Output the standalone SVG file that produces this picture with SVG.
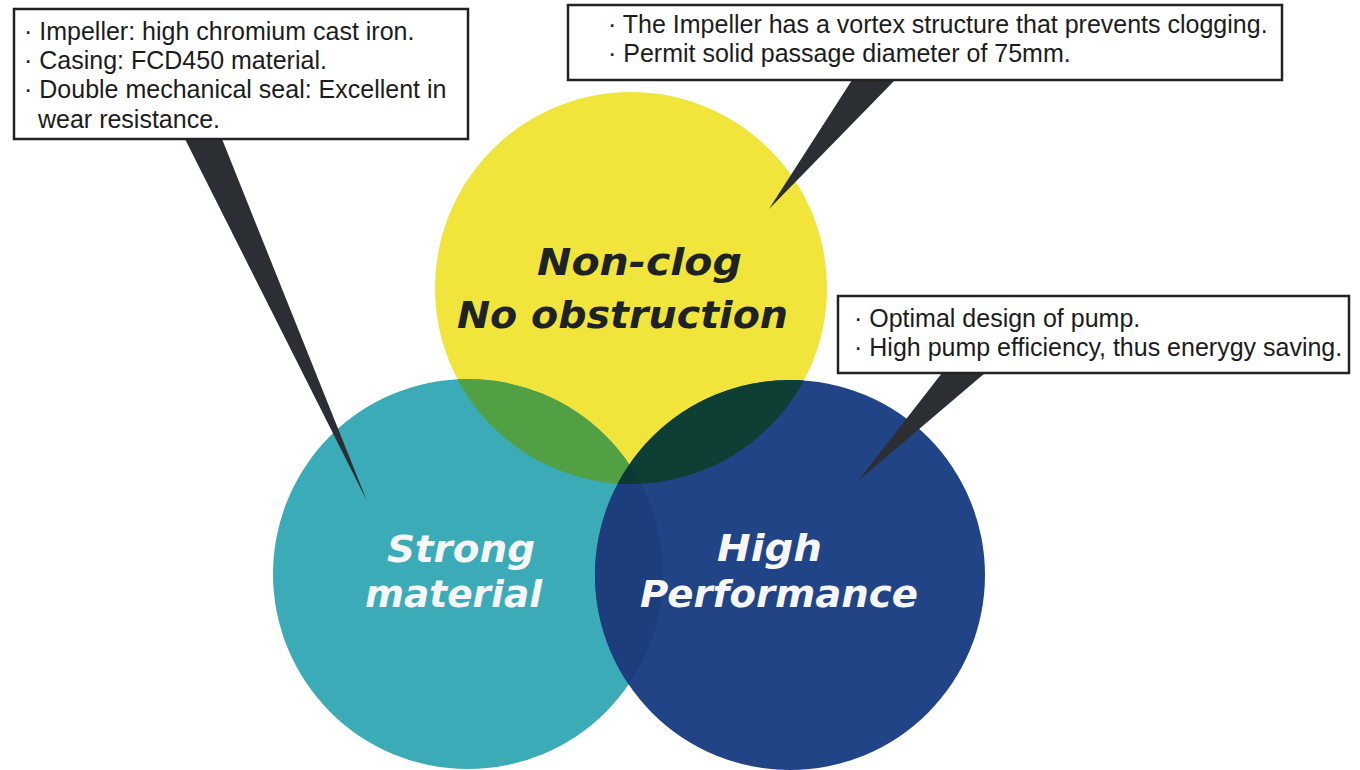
<svg xmlns="http://www.w3.org/2000/svg" width="1360" height="770" viewBox="0 0 1360 770">
<style>
.box{fill:#ffffff;stroke:#222222;stroke-width:2.5}
.bt{font-family:"Liberation Sans",Arial,sans-serif;font-size:25px;fill:#1c1c1c}
.ct{font-family:"DejaVu Sans","Open Sans",sans-serif;font-weight:700;font-style:italic;font-size:38px}
.dark{fill:#1c2226}
.light{fill:#f6f6f6}
.wedge{fill:#2b2f33}
</style>
<defs>
<clipPath id="clipTeal"><circle cx="468" cy="574" r="195"/></clipPath>
<clipPath id="clipBlue"><circle cx="790" cy="575" r="195"/></clipPath>
</defs>
<rect x="0" y="0" width="1360" height="770" fill="#ffffff"/>
<g id="node-nonclog">
<circle cx="631" cy="288" r="196" fill="#f1e43a"/>
</g>
<g id="node-strong">
<circle cx="468" cy="574" r="195" fill="#3babb8"/>
</g>
<g id="node-high">
<circle cx="790" cy="575" r="195" fill="#214487"/>
</g>
<g id="overlaps">
<g clip-path="url(#clipTeal)"><circle cx="631" cy="288" r="196" fill="#52a044"/></g>
<g clip-path="url(#clipTeal)"><circle cx="790" cy="575" r="195" fill="#1d3d7c"/></g>
<g clip-path="url(#clipBlue)"><circle cx="631" cy="288" r="196" fill="#0e3f35"/></g>
<g clip-path="url(#clipTeal)"><g clip-path="url(#clipBlue)"><circle cx="631" cy="288" r="196" fill="#0c3a33"/></g></g>
</g>
<g id="connectors">
<polygon class="wedge" points="185,139 222,139 367,501"/>
<polygon class="wedge" points="852,80 895,80 769,209"/>
<polygon class="wedge" points="942,373 985,373 858,481"/>
</g>
<g id="box-material">
<rect class="box" x="14" y="9" width="454" height="130"/>
<text class="bt" x="24" y="40">· Impeller: high chromium cast iron.</text>
<text class="bt" x="24" y="69">· Casing: FCD450 material.</text>
<text class="bt" x="24" y="98">· Double mechanical seal: Excellent in</text>
<text class="bt" x="38" y="128">wear resistance.</text>
</g>
<g id="box-nonclog">
<rect class="box" x="568" y="5" width="714" height="75"/>
<text class="bt" x="608" y="33">· The Impeller has a vortex structure that prevents clogging.</text>
<text class="bt" x="608" y="62">· Permit solid passage diameter of 75mm.</text>
</g>
<g id="box-performance">
<rect class="box" x="838" y="296" width="511" height="77"/>
<text class="bt" x="854" y="327">· Optimal design of pump.</text>
<text class="bt" x="854" y="356">· High pump efficiency, thus enerygy saving.</text>
</g>
<g id="labels">
<text class="ct dark" x="537" y="275" textLength="205" lengthAdjust="spacingAndGlyphs">Non-clog</text>
<text class="ct dark" x="457" y="328" textLength="331" lengthAdjust="spacingAndGlyphs">No obstruction</text>
<text class="ct light" x="387" y="562" textLength="148" lengthAdjust="spacingAndGlyphs">Strong</text>
<text class="ct light" x="365" y="607" textLength="177" lengthAdjust="spacingAndGlyphs">material</text>
<text class="ct light" x="717" y="561" textLength="105" lengthAdjust="spacingAndGlyphs">High</text>
<text class="ct light" x="640" y="607" textLength="278" lengthAdjust="spacingAndGlyphs">Performance</text>
</g>
</svg>
